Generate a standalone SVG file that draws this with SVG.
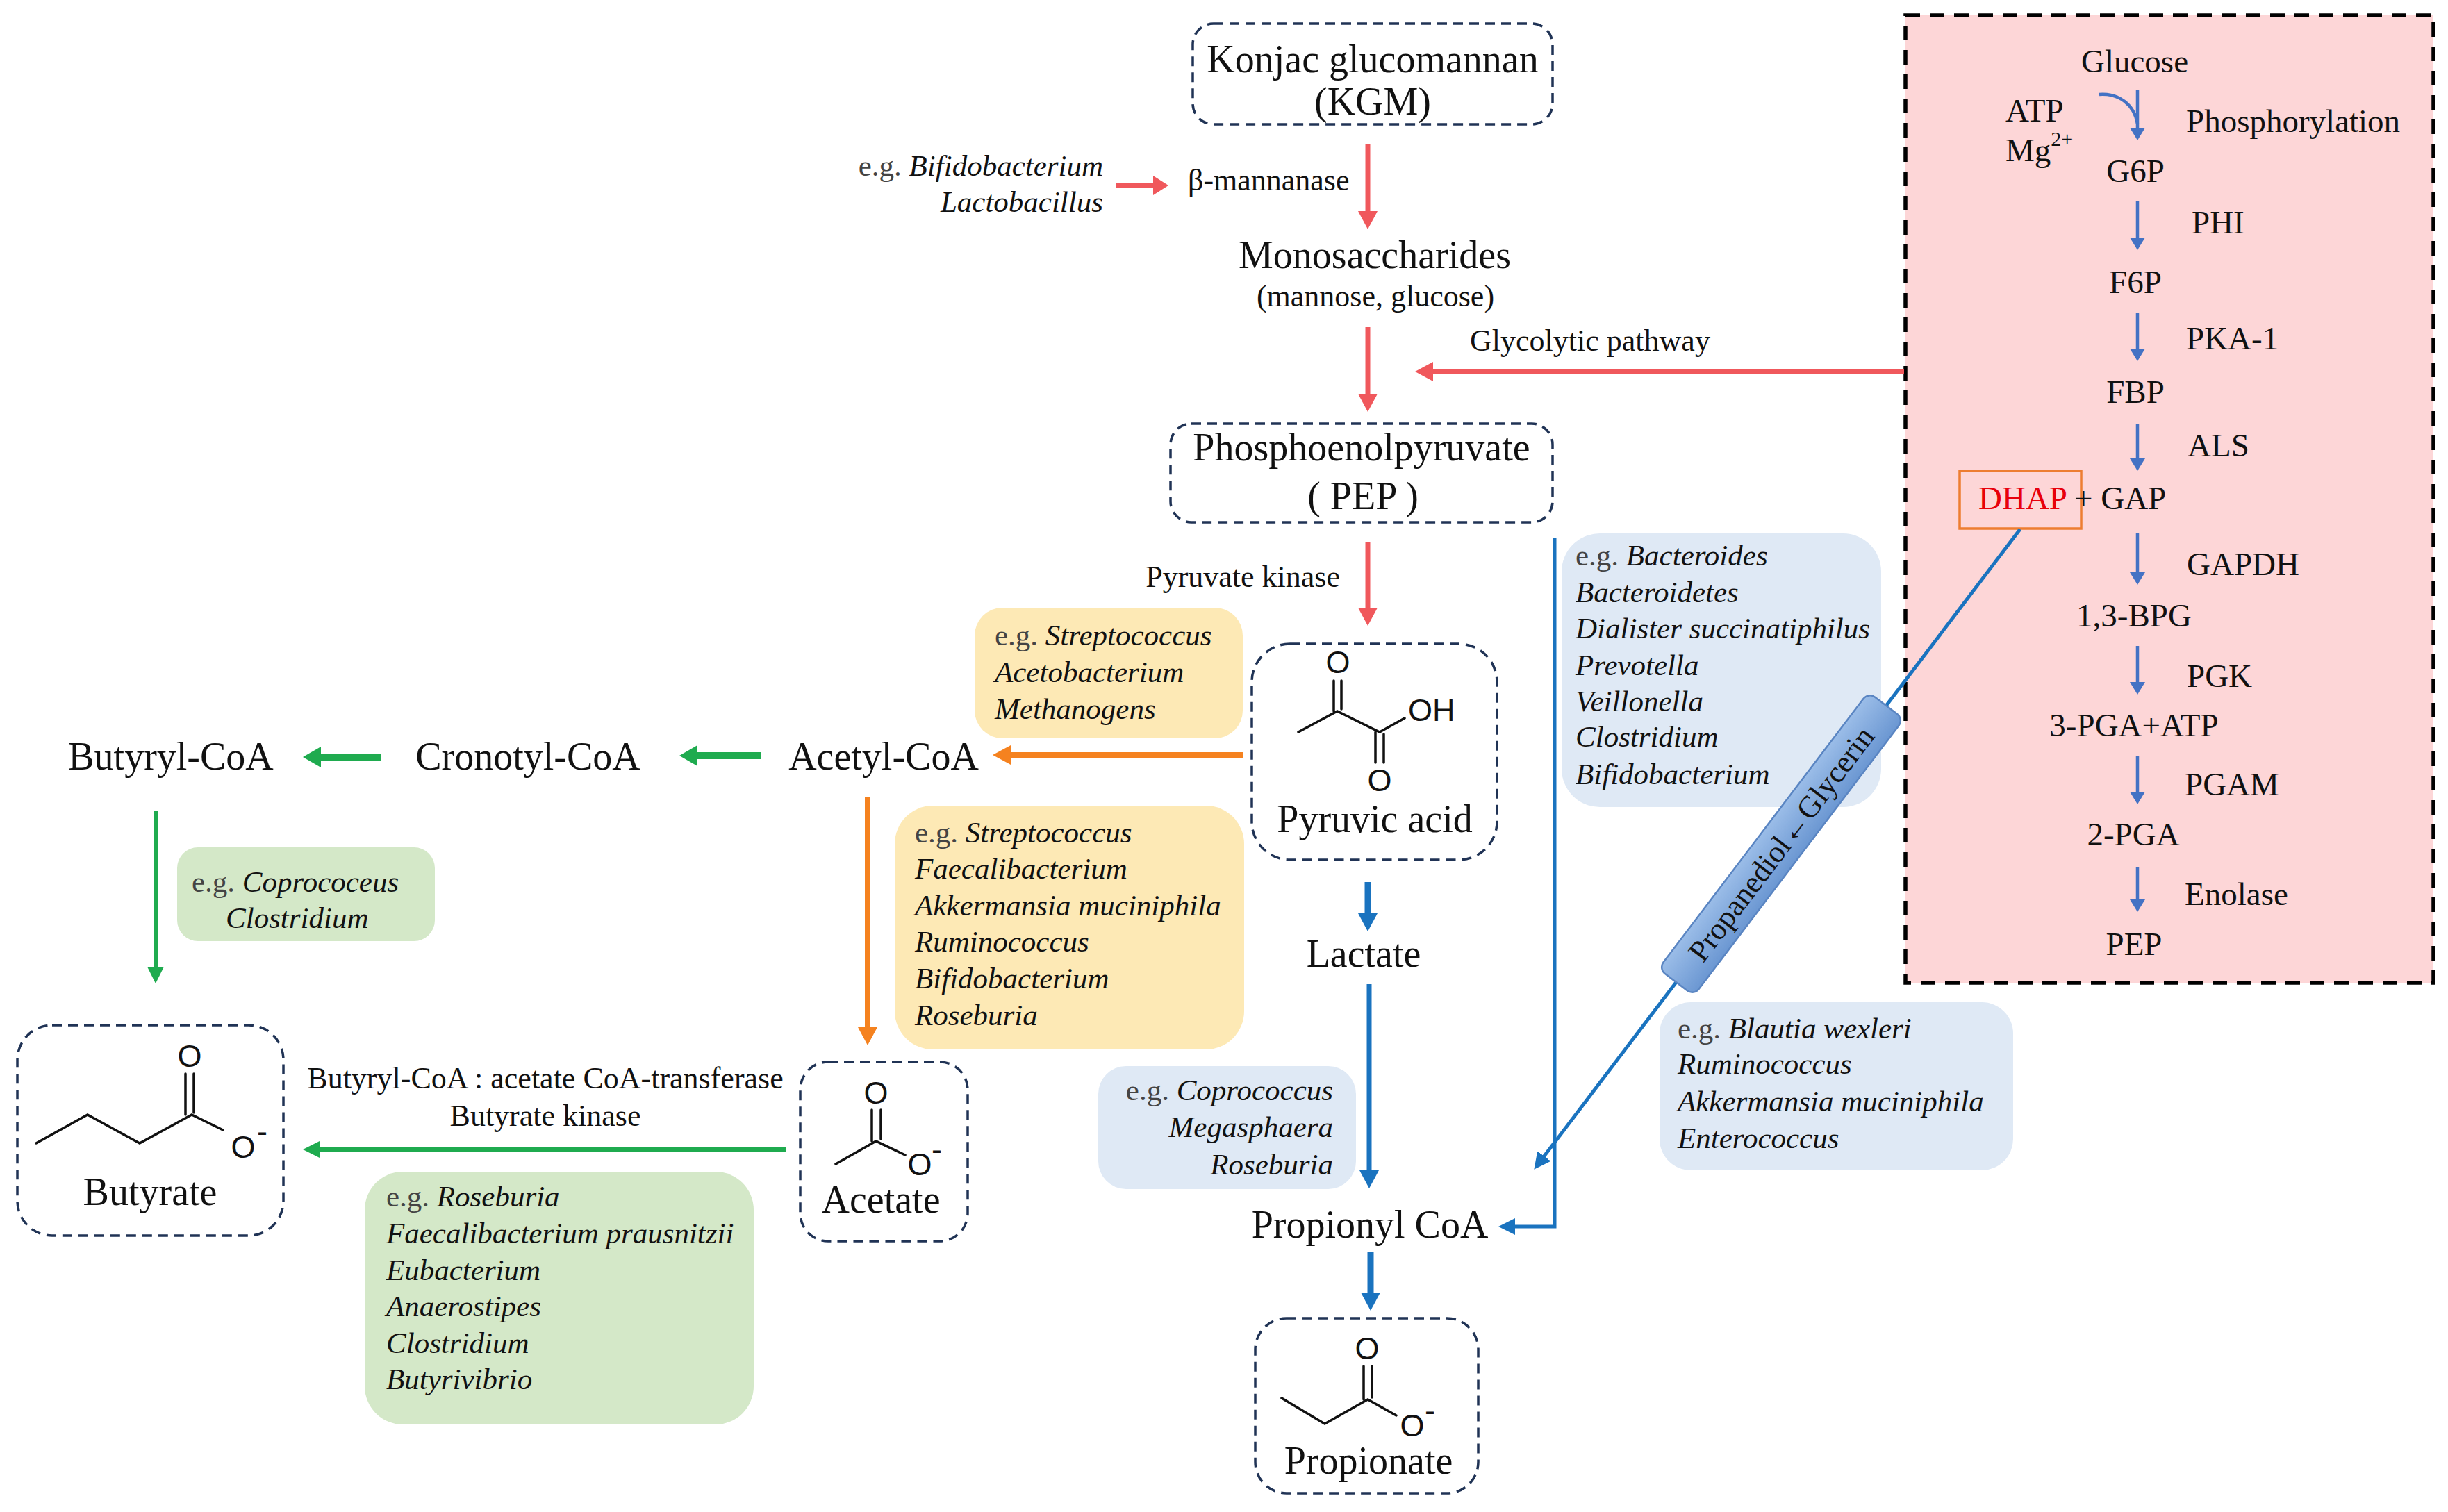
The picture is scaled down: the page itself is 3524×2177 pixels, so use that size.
<svg xmlns="http://www.w3.org/2000/svg" width="3524" height="2177" viewBox="0 0 3524 2177">
<defs>
<style>
text{font-family:"Liberation Serif","Times New Roman",serif;fill:#111}
.main{font-size:56px}
.sub{font-size:44px}
.sp{font-size:43px;font-style:italic}
.eg{font-style:normal;fill:#444}
.gl{font-size:47px}
.chem{font-family:"Liberation Sans",Arial,sans-serif;font-size:45px}
.node{fill:#fff;stroke:#203355;stroke-width:3.5;stroke-dasharray:14 9}
.bond{stroke:#111;stroke-width:3.5;fill:none;stroke-linecap:round}
.red{stroke:#f0585c;stroke-width:7;fill:none}
.blue{stroke:#1a73bf;fill:none}
.gly{stroke:#4472c4;stroke-width:4.5;fill:none}
.org{stroke:#f5821f;stroke-width:8;fill:none}
.grn{stroke:#1fab4f;fill:none}
.yel{fill:#fde9b5}
.gbx{fill:#d4e8c8}
.bbx{fill:#dfe9f5}
</style>
<linearGradient id="lblg" x1="0" y1="0" x2="0" y2="1">
<stop offset="0" stop-color="#9bbde8"/><stop offset="1" stop-color="#6b97d2"/>
</linearGradient>
<marker id="mRed" markerUnits="userSpaceOnUse" markerWidth="26" markerHeight="28" viewBox="0 0 26 28" refX="8" refY="14" orient="auto"><path d="M0,0 L26,14 L0,28 Z" fill="#f0585c"/></marker>
<marker id="mRedS" markerUnits="userSpaceOnUse" markerWidth="22" markerHeight="28" viewBox="0 0 22 28" refX="4" refY="14" orient="auto"><path d="M0,0 L22,14 L0,28 Z" fill="#f0585c"/></marker>
<marker id="mBlue" markerUnits="userSpaceOnUse" markerWidth="26" markerHeight="28" viewBox="0 0 26 28" refX="10" refY="14" orient="auto"><path d="M0,0 L26,14 L0,28 Z" fill="#1a73bf"/></marker>
<marker id="mBlueS" markerUnits="userSpaceOnUse" markerWidth="24" markerHeight="24" viewBox="0 0 24 24" refX="8" refY="12" orient="auto"><path d="M0,0 L24,12 L0,24 Z" fill="#1a73bf"/></marker>
<marker id="mGly" markerUnits="userSpaceOnUse" markerWidth="18" markerHeight="22" viewBox="0 0 18 22" refX="6" refY="11" orient="auto"><path d="M0,0 L18,11 L0,22 Z" fill="#4472c4"/></marker>
<marker id="mOrg" markerUnits="userSpaceOnUse" markerWidth="26" markerHeight="28" viewBox="0 0 26 28" refX="8" refY="14" orient="auto"><path d="M0,0 L26,14 L0,28 Z" fill="#f5821f"/></marker>
<marker id="mGrn" markerUnits="userSpaceOnUse" markerWidth="26" markerHeight="30" viewBox="0 0 26 30" refX="10" refY="15" orient="auto"><path d="M0,0 L26,15 L0,30 Z" fill="#1fab4f"/></marker>
<marker id="mGrnS" markerUnits="userSpaceOnUse" markerWidth="24" markerHeight="24" viewBox="0 0 24 24" refX="8" refY="12" orient="auto"><path d="M0,0 L24,12 L0,24 Z" fill="#1fab4f"/></marker>
</defs>
<rect width="3524" height="2177" fill="#fff"/>

<!-- glycolysis panel -->
<g id="glycolysis-panel">
<rect x="2743" y="22" width="760" height="1393" fill="#fdd6d7" stroke="#000" stroke-width="5.5" stroke-dasharray="21 14"/>
<text class="gl" x="3073" y="104" text-anchor="middle">Glucose</text>
<text class="gl" x="2887" y="175">ATP</text>
<text class="gl" x="2887" y="232">Mg<tspan font-size="30" dy="-22">2+</tspan></text>
<text class="gl" x="3147" y="190">Phosphorylation</text>
<text class="gl" x="3074" y="262" text-anchor="middle">G6P</text>
<text class="gl" x="3155" y="336">PHI</text>
<text class="gl" x="3074" y="422" text-anchor="middle">F6P</text>
<text class="gl" x="3147" y="503">PKA-1</text>
<text class="gl" x="3074" y="580" text-anchor="middle">FBP</text>
<text class="gl" x="3149" y="657">ALS</text>
<rect x="2821" y="678" width="175" height="83" fill="none" stroke="#ed7d31" stroke-width="3.5"/>
<text class="gl" x="2848" y="733"><tspan fill="#e8000b">DHAP</tspan> + GAP</text>
<text class="gl" x="3148" y="828">GAPDH</text>
<text class="gl" x="3072" y="902" text-anchor="middle">1,3-BPG</text>
<text class="gl" x="3148" y="989">PGK</text>
<text class="gl" x="3072" y="1060" text-anchor="middle">3-PGA+ATP</text>
<text class="gl" x="3145" y="1145">PGAM</text>
<text class="gl" x="3071" y="1217" text-anchor="middle">2-PGA</text>
<text class="gl" x="3145" y="1303">Enolase</text>
<text class="gl" x="3072" y="1375" text-anchor="middle">PEP</text>
</g>

<!-- nodes -->
<g id="node-kgm">
<rect class="node" x="1717" y="34" width="518" height="145" rx="30"/>
<text class="main" x="1976" y="104" text-anchor="middle">Konjac glucomannan</text>
<text class="main" x="1976" y="165" text-anchor="middle">(KGM)</text>
</g>
<g id="node-mannanase">
<text class="sp" x="1588" y="253" text-anchor="end"><tspan class="eg">e.g.</tspan> Bifidobacterium</text>
<text class="sp" x="1588" y="305" text-anchor="end">Lactobacillus</text>
<text class="sub" x="1710" y="274">β-mannanase</text>
</g>
<g id="node-mono">
<text class="main" x="1979" y="386" text-anchor="middle">Monosaccharides</text>
<text class="sub" x="1980" y="441" text-anchor="middle">(mannose, glucose)</text>
</g>
<g id="node-glycolytic-label">
<text class="sub" x="2289" y="505" text-anchor="middle">Glycolytic pathway</text>
</g>
<g id="node-pep">
<rect class="node" x="1685" y="610" width="550" height="142" rx="30"/>
<text class="main" x="1960" y="663" text-anchor="middle">Phosphoenolpyruvate</text>
<text class="main" x="1962" y="733" text-anchor="middle">( PEP )</text>
</g>
<g id="node-pk">
<text class="sub" x="1929" y="845" text-anchor="end">Pyruvate kinase</text>
</g>
<g id="node-pyruvic">
<rect class="node" x="1802" y="927" width="353" height="311" rx="55"/>
<text class="chem" x="1926" y="969" text-anchor="middle">O</text>
<path class="bond" d="M1920,980 V1024 M1931,980 V1021 M1869,1054 L1925,1024 L1986,1054 L2022,1034 M1980,1054 V1098 M1992,1057 V1098"/>
<text class="chem" x="2027" y="1038">OH</text>
<text class="chem" x="1986" y="1139" text-anchor="middle">O</text>
<text class="main" x="1979" y="1198" text-anchor="middle">Pyruvic acid</text>
</g>
<g id="node-lactate">
<text class="main" x="1963" y="1392" text-anchor="middle">Lactate</text>
</g>
<g id="node-propionylcoa">
<text class="main" x="1972" y="1782" text-anchor="middle">Propionyl CoA</text>
</g>
<g id="node-propionate">
<rect class="node" x="1807" y="1898" width="321" height="252" rx="45"/>
<text class="chem" x="1968" y="1957" text-anchor="middle" font-size="47">O</text>
<path class="bond" d="M1963,1967 V2015 M1975,1967 V2012 M1845,2013 L1907,2050 L1969,2015 L2010,2038"/>
<text class="chem" x="2033" y="2068" text-anchor="middle" font-size="47">O</text>
<text class="chem" x="2051" y="2046" font-size="32">-</text>
<text class="main" x="1970" y="2122" text-anchor="middle">Propionate</text>
</g>
<g id="node-acetylcoa">
<text class="main" x="1272" y="1108" text-anchor="middle">Acetyl-CoA</text>
</g>
<g id="node-cronotylcoa">
<text class="main" x="760" y="1108" text-anchor="middle">Cronotyl-CoA</text>
</g>
<g id="node-butyrylcoa">
<text class="main" x="246" y="1108" text-anchor="middle">Butyryl-CoA</text>
</g>
<g id="node-acetate">
<rect class="node" x="1152" y="1529" width="241" height="258" rx="40"/>
<text class="chem" x="1261" y="1589" text-anchor="middle" font-size="44">O</text>
<path class="bond" d="M1255,1598 V1643 M1268,1598 V1640 M1203,1676 L1261,1643 L1303,1663"/>
<text class="chem" x="1324" y="1692" text-anchor="middle" font-size="44">O</text>
<text class="chem" x="1341" y="1670" font-size="30">-</text>
<text class="main" x="1268" y="1746" text-anchor="middle">Acetate</text>
</g>
<g id="node-butyrate">
<rect class="node" x="25" y="1476" width="383" height="303" rx="50"/>
<text class="chem" x="273" y="1536" text-anchor="middle" font-size="48">O</text>
<path class="bond" d="M267,1546 V1605 M279,1546 V1602 M52,1646 L126,1605 L201,1646 L276,1605 L321,1627"/>
<text class="chem" x="350" y="1667" text-anchor="middle" font-size="48">O</text>
<text class="chem" x="370" y="1644" font-size="32">-</text>
<text class="main" x="216" y="1735" text-anchor="middle">Butyrate</text>
</g>
<g id="node-butyrate-enzymes">
<text class="sub" x="785" y="1567" text-anchor="middle" font-size="43">Butyryl-CoA : acetate CoA-transferase</text>
<text class="sub" x="785" y="1621" text-anchor="middle" font-size="43">Butyrate kinase</text>
</g>

<!-- bacteria boxes -->
<g id="box-yellow-1">
<rect class="yel" x="1403" y="875" width="386" height="188" rx="40"/>
<text class="sp" x="1432" y="929"><tspan class="eg">e.g.</tspan> Streptococcus</text>
<text class="sp" x="1432" y="982">Acetobacterium</text>
<text class="sp" x="1432" y="1035">Methanogens</text>
</g>
<g id="box-yellow-2">
<rect class="yel" x="1288" y="1160" width="503" height="351" rx="55"/>
<text class="sp" x="1317" y="1213"><tspan class="eg">e.g.</tspan> Streptococcus</text>
<text class="sp" x="1317" y="1265">Faecalibacterium</text>
<text class="sp" x="1317" y="1318">Akkermansia muciniphila</text>
<text class="sp" x="1317" y="1370">Ruminococcus</text>
<text class="sp" x="1317" y="1423">Bifidobacterium</text>
<text class="sp" x="1317" y="1476">Roseburia</text>
</g>
<g id="box-blue-1">
<rect class="bbx" x="2248" y="768" width="460" height="394" rx="55"/>
<text class="sp" x="2268" y="814"><tspan class="eg">e.g.</tspan> Bacteroides</text>
<text class="sp" x="2268" y="867">Bacteroidetes</text>
<text class="sp" x="2268" y="919">Dialister succinatiphilus</text>
<text class="sp" x="2268" y="972">Prevotella</text>
<text class="sp" x="2268" y="1024">Veillonella</text>
<text class="sp" x="2268" y="1075">Clostridium</text>
<text class="sp" x="2268" y="1129">Bifidobacterium</text>
</g>
<g id="box-blue-2">
<rect class="bbx" x="2389" y="1443" width="509" height="242" rx="45"/>
<text class="sp" x="2415" y="1495"><tspan class="eg">e.g.</tspan> Blautia wexleri</text>
<text class="sp" x="2415" y="1546">Ruminococcus</text>
<text class="sp" x="2415" y="1600">Akkermansia muciniphila</text>
<text class="sp" x="2415" y="1653">Enterococcus</text>
</g>
<g id="box-blue-3">
<rect class="bbx" x="1581" y="1535" width="371" height="177" rx="40"/>
<text class="sp" x="1919" y="1584" text-anchor="end"><tspan class="eg">e.g.</tspan> Coprococcus</text>
<text class="sp" x="1919" y="1637" text-anchor="end">Megasphaera</text>
<text class="sp" x="1919" y="1691" text-anchor="end">Roseburia</text>
</g>
<g id="box-green-1">
<rect class="gbx" x="255" y="1220" width="371" height="135" rx="30"/>
<text class="sp" x="276" y="1284"><tspan class="eg">e.g.</tspan> Coprococeus</text>
<text class="sp" x="325" y="1336">Clostridium</text>
</g>
<g id="box-green-2">
<rect class="gbx" x="525" y="1687" width="560" height="364" rx="55"/>
<text class="sp" x="556" y="1737"><tspan class="eg">e.g.</tspan> Roseburia</text>
<text class="sp" x="556" y="1790">Faecalibacterium prausnitzii</text>
<text class="sp" x="556" y="1843">Eubacterium</text>
<text class="sp" x="556" y="1895">Anaerostipes</text>
<text class="sp" x="556" y="1948">Clostridium</text>
<text class="sp" x="556" y="2000">Butyrivibrio</text>
</g>

<!-- connectors -->
<g id="connectors">
<line class="red" x1="1969" y1="207" x2="1969" y2="312" marker-end="url(#mRed)"/>
<line class="red" x1="1969" y1="471" x2="1969" y2="575" marker-end="url(#mRed)"/>
<line class="red" x1="1969" y1="780" x2="1969" y2="883" marker-end="url(#mRed)"/>
<line class="red" x1="2741" y1="535" x2="2055" y2="535" stroke-width="6" marker-end="url(#mRed)"/>
<line class="red" x1="1607" y1="267" x2="1664" y2="267" stroke-width="8" marker-end="url(#mRedS)"/>

<line class="blue" x1="1969" y1="1270" x2="1969" y2="1325" stroke-width="9" marker-end="url(#mBlue)"/>
<line class="blue" x1="1971" y1="1417" x2="1971" y2="1695" stroke-width="7" marker-end="url(#mBlue)"/>
<line class="blue" x1="1973" y1="1802" x2="1973" y2="1871" stroke-width="9" marker-end="url(#mBlue)"/>
<path class="blue" d="M2238,774 V1766 H2173" stroke-width="5" marker-end="url(#mBlueS)"/>
<line class="blue" x1="2908" y1="762" x2="2218" y2="1671" stroke-width="5" marker-end="url(#mBlueS)"/>

<path class="gly" d="M3077,129 V190" marker-end="url(#mGly)"/>
<path class="gly" d="M3022,136 C3050,134 3072,150 3077,178"/>
<line class="gly" x1="3077" y1="290" x2="3077" y2="348" marker-end="url(#mGly)"/>
<line class="gly" x1="3077" y1="450" x2="3077" y2="508" marker-end="url(#mGly)"/>
<line class="gly" x1="3077" y1="610" x2="3077" y2="666" marker-end="url(#mGly)"/>
<line class="gly" x1="3077" y1="768" x2="3077" y2="830" marker-end="url(#mGly)"/>
<line class="gly" x1="3077" y1="930" x2="3077" y2="988" marker-end="url(#mGly)"/>
<line class="gly" x1="3077" y1="1088" x2="3077" y2="1146" marker-end="url(#mGly)"/>
<line class="gly" x1="3077" y1="1248" x2="3077" y2="1301" marker-end="url(#mGly)"/>

<line class="org" x1="1790" y1="1087" x2="1447" y2="1087" marker-end="url(#mOrg)"/>
<line class="org" x1="1249" y1="1147" x2="1249" y2="1487" marker-end="url(#mOrg)"/>

<line class="grn" x1="549" y1="1090" x2="452" y2="1090" stroke-width="10" marker-end="url(#mGrn)"/>
<line class="grn" x1="1096" y1="1088" x2="994" y2="1088" stroke-width="10" marker-end="url(#mGrn)"/>
<line class="grn" x1="224" y1="1167" x2="224" y2="1400" stroke-width="6" marker-end="url(#mGrnS)"/>
<line class="grn" x1="1131" y1="1655" x2="452" y2="1655" stroke-width="6" marker-end="url(#mGrnS)"/>
</g>

<g id="node-propanediol-label" transform="translate(2564,1215) rotate(-52.8)">
<rect x="-250" y="-32" width="500" height="64" rx="12" fill="url(#lblg)" stroke="#5a85c2" stroke-width="2.5"/>
<text x="0" y="15" text-anchor="middle" font-size="44">Propanediol←Glycerin</text>
</g>
</svg>
